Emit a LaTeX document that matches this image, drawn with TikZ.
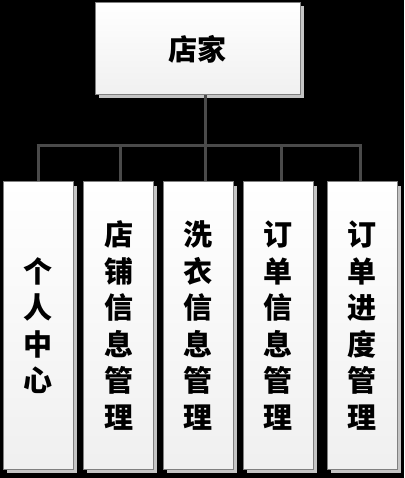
\documentclass[tikz,border=0pt]{standalone}
\usepackage{fontspec}
\newfontfamily\cjk{Noto Sans CJK SC}
\usetikzlibrary{shadows}
\definecolor{linegray}{HTML}{4A4A4A}
\definecolor{boxborder}{HTML}{808080}
\definecolor{shadowgray}{HTML}{C4C4C4}
\tikzset{
  box/.style={rectangle, draw=boxborder, line width=1pt, top color=white, bottom color=gray!12,
    drop shadow={shadow xshift=3.5pt, shadow yshift=-3.5pt, fill=shadowgray, opacity=1},
    inner sep=0pt, align=center, font=\cjk\bfseries\fontsize{29}{36.5}\selectfont},
  topbox/.style={box, minimum width=205pt, minimum height=92pt},
  colbox/.style={box, minimum width=70pt, minimum height=287pt},
  conn/.style={draw=linegray, line width=3pt}
}
\begin{document}
\begin{tikzpicture}[x=1pt,y=-1pt]
\useasboundingbox (0,0) rectangle (404,478);
\fill[black] (0,0) rectangle (404,478);
\node[topbox] (top) at (197.5,49) {店家};
\node[colbox] (b1) at (38,325.5) {个\\人\\中\\心};
\node[colbox] (b2) at (118.5,325.5) {店\\铺\\信\\息\\管\\理};
\node[colbox] (b3) at (198,325.5) {洗\\衣\\信\\息\\管\\理};
\node[colbox] (b4) at (278,325.5) {订\\单\\信\\息\\管\\理};
\node[colbox] (b5) at (362,325.5) {订\\单\\进\\度\\管\\理};
\coordinate (bus) at (205,146);
\coordinate (busL) at (38,146);
\coordinate (busR) at (360,146);
\draw[conn] ([xshift=7.5pt]top.south) -- (bus);
\draw[conn] ([xshift=-1.5pt]busL) -- ([xshift=1.5pt]busR);
\draw[conn] (b1.north) -- (b1.north |- busL);
\draw[conn] ([xshift=1.5pt]b2.north) -- ([xshift=1.5pt]b2.north |- busL);
\draw[conn] ([xshift=7pt]b3.north) -- ([xshift=7pt]b3.north |- busL);
\draw[conn] ([xshift=3.5pt]b4.north) -- ([xshift=3.5pt]b4.north |- busL);
\draw[conn] ([xshift=-2pt]b5.north) -- ([xshift=-2pt]b5.north |- busL);
\end{tikzpicture}
\end{document}
